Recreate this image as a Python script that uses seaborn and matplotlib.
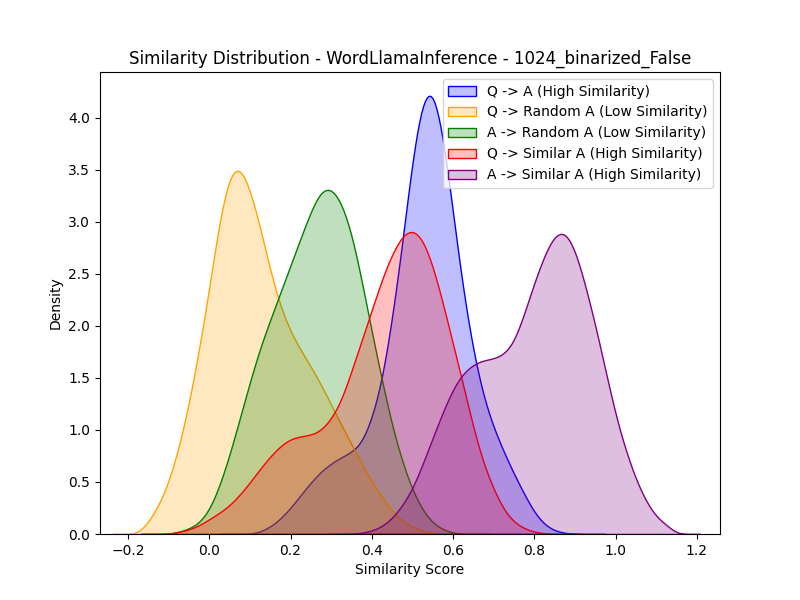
"""
Similarity distribution plot (KDE of similarity scores per pairing).
"""

import numpy as np
import matplotlib
matplotlib.use("Agg")
import matplotlib.pyplot as plt
import seaborn as sns

# Q -> A (High Similarity)
q_a_scores = [0.125, 0.15, 0.175, 0.2, 0.225, 0.25, 0.275, 0.3, 0.325, 0.35,
              0.375, 0.4, 0.425, 0.45, 0.475, 0.5, 0.525, 0.55, 0.575, 0.6,
              0.625, 0.65, 0.675, 0.7, 0.725, 0.75, 0.775, 0.8, 0.825, 0.85, 0.875]
q_a_density = [0.02, 0.07, 0.15, 0.26, 0.39, 0.52, 0.63, 0.71, 0.77, 0.82,
               0.90, 1.15, 1.52, 2.15, 2.90, 3.78, 4.40, 4.52, 4.02, 3.22,
               2.42, 1.82, 1.36, 1.06, 0.82, 0.60, 0.40, 0.21, 0.09, 0.03, 0.01]

# Q -> Random A (Low Similarity)
q_rand_scores = [-0.15, -0.125, -0.1, -0.075, -0.05, -0.025, 0.0, 0.025, 0.05, 0.075,
                 0.1, 0.125, 0.15, 0.175, 0.2, 0.225, 0.25, 0.275, 0.3, 0.325,
                 0.35, 0.375, 0.4, 0.425, 0.45, 0.475, 0.5, 0.525, 0.55]
q_rand_density = [0.11, 0.26, 0.48, 0.80, 1.22, 1.72, 2.30, 2.95, 3.40, 3.47,
                  3.24, 2.88, 2.46, 2.12, 1.89, 1.72, 1.57, 1.40, 1.21, 1.02,
                  0.84, 0.66, 0.49, 0.34, 0.21, 0.12, 0.06, 0.03, 0.01]

# A -> Random A (Low Similarity)
a_rand_scores = [-0.075, -0.05, -0.025, 0.0, 0.025, 0.05, 0.075, 0.1, 0.125, 0.15,
                 0.175, 0.2, 0.225, 0.25, 0.275, 0.3, 0.325, 0.35, 0.375, 0.4,
                 0.425, 0.45, 0.475, 0.5, 0.525, 0.55, 0.575, 0.6]
a_rand_density = [0.02, 0.05, 0.10, 0.22, 0.45, 0.75, 1.10, 1.45, 1.78, 2.04,
                  2.30, 2.56, 2.82, 3.08, 3.29, 3.31, 3.17, 2.88, 2.42, 1.92,
                  1.46, 1.02, 0.68, 0.41, 0.22, 0.10, 0.04, 0.01]

# Q -> Similar A (High Similarity)
q_sim_scores = [-0.075, -0.05, -0.025, 0.0, 0.025, 0.05, 0.075, 0.1, 0.125, 0.15,
                0.175, 0.2, 0.225, 0.25, 0.275, 0.3, 0.325, 0.35, 0.375, 0.4,
                0.425, 0.45, 0.475, 0.5, 0.525, 0.55, 0.575, 0.6, 0.625, 0.65,
                0.675, 0.7, 0.725, 0.75, 0.775, 0.8, 0.825]
q_sim_density = [0.02, 0.04, 0.08, 0.14, 0.20, 0.27, 0.37, 0.49, 0.62, 0.74,
                 0.84, 0.91, 0.93, 0.94, 0.98, 1.09, 1.26, 1.55, 1.84, 2.13,
                 2.43, 2.67, 2.85, 2.91, 2.82, 2.56, 2.20, 1.80, 1.42, 1.00,
                 0.66, 0.42, 0.22, 0.11, 0.05, 0.02, 0.005]

# A -> Similar A (High Similarity)
a_sim_scores = [0.375, 0.4, 0.425, 0.45, 0.475, 0.5, 0.525, 0.55, 0.575, 0.6,
                0.625, 0.65, 0.675, 0.7, 0.725, 0.75, 0.775, 0.8, 0.825, 0.85,
                0.875, 0.9, 0.925, 0.95, 0.975, 1.0, 1.025, 1.05, 1.075, 1.1,
                1.125]
a_sim_density = [0.01, 0.03, 0.07, 0.15, 0.27, 0.43, 0.67, 0.93, 1.18, 1.41,
                 1.56, 1.64, 1.68, 1.69, 1.73, 1.84, 2.12, 2.43, 2.70, 2.90,
                 2.94, 2.76, 2.41, 2.02, 1.58, 1.14, 0.80, 0.52, 0.31, 0.16,
                 0.09]

labels = ["Q -> A (High Similarity)",
          "Q -> Random A (Low Similarity)",
          "A -> Random A (Low Similarity)",
          "Q -> Similar A (High Similarity)",
          "A -> Similar A (High Similarity)"]
colors = ["blue", "orange", "green", "red", "purple"]

BANDWIDTH = 0.018


def plot_kde(ax, scores, density, color, label):
    """Weighted KDE with a fixed absolute bandwidth"""
    scores = np.asarray(scores, dtype=float)
    density = np.asarray(density, dtype=float)
    spread = np.sqrt(np.cov(scores, aweights=density))
    sns.kdeplot(x=scores, weights=density, bw_method=BANDWIDTH / spread,
                fill=True, color=color, label=label, ax=ax)


def main():
    fig, ax = plt.subplots(figsize=(8, 6), dpi=100)

    series = [(q_a_scores, q_a_density),
              (q_rand_scores, q_rand_density),
              (a_rand_scores, a_rand_density),
              (q_sim_scores, q_sim_density),
              (a_sim_scores, a_sim_density)]
    for (scores, density), color, label in zip(series, colors, labels):
        plot_kde(ax, scores, density, color, label)

    ax.set_xlim(-0.269, 1.257)
    ax.set_ylim(0, 4.44)
    ax.set_title("Similarity Distribution - WordLlamaInference - 1024_binarized_False")
    ax.set_xlabel("Similarity Score")
    ax.set_ylabel("Density")
    ax.legend(loc="upper right")
    fig.savefig("out.png")


if __name__ == "__main__":
    main()
